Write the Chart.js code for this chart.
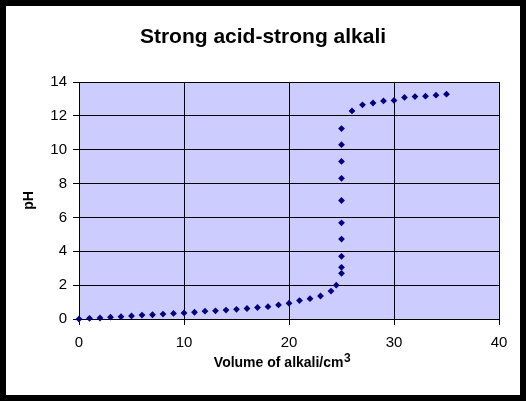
<!DOCTYPE html>
<html>
<head>
<meta charset="utf-8">
<script src="https://cdn.jsdelivr.net/npm/chart.js@4"></script>
<style>
  body { margin: 0; overflow: hidden; background: #000; }
  canvas { display: block; }
</style>
</head>
<body>
<canvas id="titration" width="526" height="401"></canvas>
<script>
// volume of alkali added (cm3) and the measured pH
const volume = [0, 1, 2, 3, 4, 5, 6, 7, 8, 9, 10, 11, 12, 13, 14, 15, 16, 17, 18, 19, 20,
  21, 22, 23, 24, 24.5, 25, 25, 25, 25, 25, 25, 25, 25, 25, 25,
  26, 27, 28, 29, 30, 31, 32, 33, 34, 35];
const pH = [0, 0.04, 0.06, 0.11, 0.14, 0.18, 0.23, 0.25, 0.29, 0.33, 0.36, 0.4, 0.46, 0.48, 0.53, 0.57, 0.62, 0.68, 0.73, 0.83, 0.93,
  1.09, 1.2, 1.36, 1.65, 2.0, 2.7, 3.05, 3.7, 4.72, 5.68, 7.0, 8.31, 9.31, 10.3, 11.25,
  12.29, 12.65, 12.76, 12.88, 12.91, 13.09, 13.14, 13.16, 13.22, 13.28];
const xTicks = [0, 10, 20, 30, 40];
const yTicks = [0, 2, 4, 6, 8, 10, 12, 14];

const FONT = "'Liberation Sans', Arial, sans-serif";

// black frame, white page, lilac plot area
const backdrop = {
  id: 'backdrop',
  beforeDraw(chart) {
    const { ctx, width, height, chartArea: a } = chart;
    ctx.save();
    ctx.fillStyle = '#000';
    ctx.fillRect(0, 0, width, height);
    ctx.fillStyle = '#fff';
    ctx.fillRect(6, 6, 514, 389);
    ctx.fillStyle = '#ccccff';
    ctx.fillRect(a.left, a.top, a.right - a.left, a.bottom - a.top);
    ctx.restore();
  }
};

// x axis title with a raised 3
const xTitle = {
  id: 'xTitle',
  afterDraw(chart) {
    const { ctx } = chart;
    const main = 'Volume of alkali/cm';
    const sup = '3';
    ctx.save();
    ctx.fillStyle = '#000';
    ctx.textBaseline = 'alphabetic';
    ctx.font = 'bold 14px ' + FONT;
    const w1 = ctx.measureText(main).width;
    ctx.font = 'bold 12px ' + FONT;
    const w2 = ctx.measureText(sup).width;
    const x0 = 282 - (w1 + w2) / 2;
    ctx.font = 'bold 14px ' + FONT;
    ctx.fillText(main, x0, 367);
    ctx.font = 'bold 12px ' + FONT;
    ctx.fillText(sup, x0 + w1 + 0.5, 362);
    ctx.restore();
  }
};

new Chart(document.getElementById('titration'), {
  type: 'scatter',
  data: {
    datasets: [{
      label: 'pH',
      data: volume.map((v, i) => ({ x: v, y: pH[i] })),
      pointStyle: 'rectRot',
      pointRadius: 3.4,
      pointBorderWidth: 0,
      backgroundColor: '#000080',
      borderColor: '#000080',
      showLine: false,
      clip: false
    }]
  },
  options: {
    responsive: false,
    animation: false,
    layout: { padding: { left: 27, right: 27, top: 0, bottom: 0 } },
    plugins: {
      legend: { display: false },
      tooltip: { enabled: false },
      title: {
        display: true,
        text: 'Strong acid-strong alkali',
        color: '#000',
        font: { family: FONT, size: 21, weight: 'bold' },
        padding: { top: 25, bottom: 31.8 }
      }
    },
    scales: {
      x: {
        type: 'linear',
        min: 0,
        max: 40,
        afterBuildTicks: s => { s.ticks = xTicks.map(v => ({ value: v })); },
        afterFit: s => { s.height = 82; },
        grid: { color: '#000', lineWidth: 1, tickLength: 6, tickColor: '#000' },
        border: { color: '#000' },
        ticks: { color: '#000', font: { family: FONT, size: 15 }, padding: 9, maxRotation: 0 }
      },
      y: {
        type: 'linear',
        min: 0,
        max: 14,
        afterBuildTicks: s => { s.ticks = yTicks.map(v => ({ value: v })); },
        afterFit: s => { s.width = 52; },
        grid: { color: '#000', lineWidth: 1, tickLength: 6, tickColor: '#000' },
        border: { color: '#000' },
        ticks: { color: '#000', font: { family: FONT, size: 15 }, padding: 6 },
        title: {
          display: true,
          text: 'pH',
          color: '#000',
          font: { family: FONT, size: 14, weight: 'bold', lineHeight: 0.2 },
          padding: { top: 0.6, bottom: 0 }
        }
      }
    }
  },
  plugins: [backdrop, xTitle]
});
</script>
</body>
</html>
